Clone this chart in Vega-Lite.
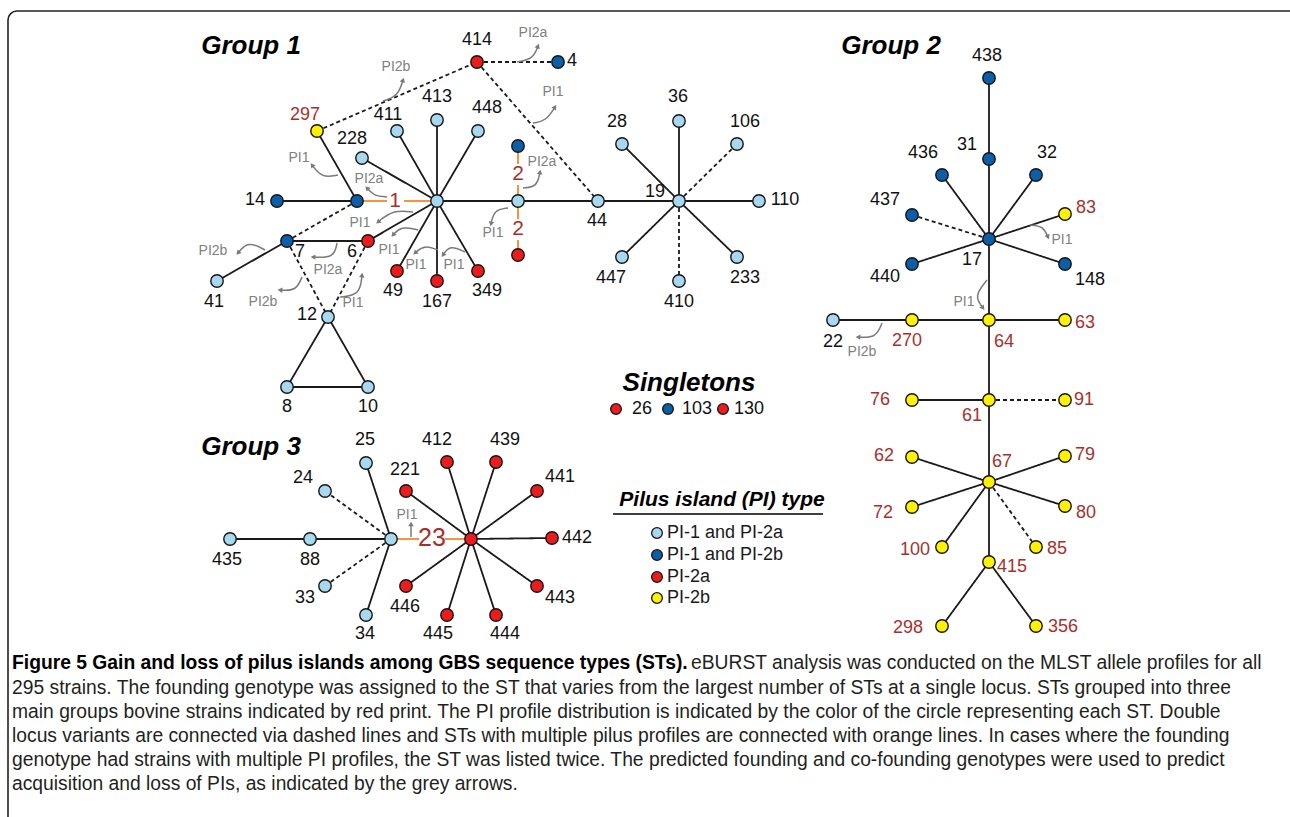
{
"$schema": "https://vega.github.io/schema/vega-lite/v6.json",
"width": 1290, "height": 817,
"autosize": {"type": "none"},
"padding": 0,
"background": "white",
"config": {"view": {"stroke": null}, "text": {"font": "Liberation Sans"}},
"datasets": {
"nodes": [
{"id":"n414","x":477,"y":62,"pi":"PI-2a"},
{"id":"n4","x":558,"y":62,"pi":"PI-1 and PI-2b"},
{"id":"n297","x":317,"y":131,"pi":"PI-2b"},
{"id":"n411","x":397,"y":131,"pi":"PI-1 and PI-2a"},
{"id":"n413","x":437,"y":120,"pi":"PI-1 and PI-2a"},
{"id":"n448","x":478,"y":131,"pi":"PI-1 and PI-2a"},
{"id":"n228","x":362,"y":158,"pi":"PI-1 and PI-2a"},
{"id":"n1a","x":437,"y":201,"pi":"PI-1 and PI-2a"},
{"id":"n1b","x":357,"y":201,"pi":"PI-1 and PI-2b"},
{"id":"n14","x":277,"y":201,"pi":"PI-1 and PI-2b"},
{"id":"n2b","x":518,"y":146,"pi":"PI-1 and PI-2b"},
{"id":"n2a","x":518,"y":201,"pi":"PI-1 and PI-2a"},
{"id":"n2r","x":518,"y":255,"pi":"PI-2a"},
{"id":"n44","x":598,"y":201,"pi":"PI-1 and PI-2a"},
{"id":"n7","x":287,"y":241,"pi":"PI-1 and PI-2b"},
{"id":"n6","x":368,"y":241,"pi":"PI-2a"},
{"id":"n41","x":217,"y":281,"pi":"PI-1 and PI-2a"},
{"id":"n12","x":328,"y":317,"pi":"PI-1 and PI-2a"},
{"id":"n8","x":287,"y":387,"pi":"PI-1 and PI-2a"},
{"id":"n10","x":368,"y":387,"pi":"PI-1 and PI-2a"},
{"id":"n49","x":397,"y":271,"pi":"PI-2a"},
{"id":"n167","x":437,"y":281,"pi":"PI-2a"},
{"id":"n349","x":478,"y":271,"pi":"PI-2a"},
{"id":"n19","x":679,"y":201,"pi":"PI-1 and PI-2a"},
{"id":"n28","x":622,"y":144,"pi":"PI-1 and PI-2a"},
{"id":"n36","x":679,"y":121,"pi":"PI-1 and PI-2a"},
{"id":"n106","x":737,"y":144,"pi":"PI-1 and PI-2a"},
{"id":"n110","x":759,"y":201,"pi":"PI-1 and PI-2a"},
{"id":"n447","x":622,"y":257,"pi":"PI-1 and PI-2a"},
{"id":"n410","x":679,"y":281,"pi":"PI-1 and PI-2a"},
{"id":"n233","x":737,"y":257,"pi":"PI-1 and PI-2a"},
{"id":"n438","x":989,"y":78,"pi":"PI-1 and PI-2b"},
{"id":"n31","x":989,"y":159,"pi":"PI-1 and PI-2b"},
{"id":"n436","x":942,"y":175,"pi":"PI-1 and PI-2b"},
{"id":"n32","x":1036,"y":175,"pi":"PI-1 and PI-2b"},
{"id":"n437","x":912,"y":215,"pi":"PI-1 and PI-2b"},
{"id":"n83","x":1065,"y":214,"pi":"PI-2b"},
{"id":"n17","x":989,"y":239,"pi":"PI-1 and PI-2b"},
{"id":"n440","x":912,"y":264,"pi":"PI-1 and PI-2b"},
{"id":"n148","x":1065,"y":264,"pi":"PI-1 and PI-2b"},
{"id":"n64","x":989,"y":320,"pi":"PI-2b"},
{"id":"n22","x":833,"y":320,"pi":"PI-1 and PI-2a"},
{"id":"n270","x":912,"y":320,"pi":"PI-2b"},
{"id":"n63","x":1065,"y":320,"pi":"PI-2b"},
{"id":"n61","x":989,"y":400,"pi":"PI-2b"},
{"id":"n76","x":912,"y":400,"pi":"PI-2b"},
{"id":"n91","x":1065,"y":400,"pi":"PI-2b"},
{"id":"n67","x":989,"y":482,"pi":"PI-2b"},
{"id":"n62","x":912,"y":457,"pi":"PI-2b"},
{"id":"n79","x":1065,"y":456,"pi":"PI-2b"},
{"id":"n72","x":912,"y":507,"pi":"PI-2b"},
{"id":"n80","x":1065,"y":506,"pi":"PI-2b"},
{"id":"n100","x":942,"y":547,"pi":"PI-2b"},
{"id":"n85","x":1036,"y":547,"pi":"PI-2b"},
{"id":"n415","x":989,"y":562,"pi":"PI-2b"},
{"id":"n298","x":942,"y":626,"pi":"PI-2b"},
{"id":"n356","x":1036,"y":626,"pi":"PI-2b"},
{"id":"n23a","x":391,"y":539,"pi":"PI-1 and PI-2a"},
{"id":"n23r","x":471,"y":539,"pi":"PI-2a"},
{"id":"n25","x":366,"y":463,"pi":"PI-1 and PI-2a"},
{"id":"n24","x":325,"y":491,"pi":"PI-1 and PI-2a"},
{"id":"n435","x":230,"y":539,"pi":"PI-1 and PI-2a"},
{"id":"n88","x":310,"y":539,"pi":"PI-1 and PI-2a"},
{"id":"n33","x":325,"y":586,"pi":"PI-1 and PI-2a"},
{"id":"n34","x":366,"y":615,"pi":"PI-1 and PI-2a"},
{"id":"n221","x":406,"y":491,"pi":"PI-2a"},
{"id":"n412","x":447,"y":462,"pi":"PI-2a"},
{"id":"n439","x":496,"y":462,"pi":"PI-2a"},
{"id":"n441","x":537,"y":491,"pi":"PI-2a"},
{"id":"n442","x":552,"y":538,"pi":"PI-2a"},
{"id":"n443","x":537,"y":586,"pi":"PI-2a"},
{"id":"n444","x":496,"y":615,"pi":"PI-2a"},
{"id":"n445","x":447,"y":615,"pi":"PI-2a"},
{"id":"n446","x":406,"y":586,"pi":"PI-2a"}
],
"edges": [
{"s":"n1a","t":"n413","k":"solid"},{"s":"n1a","t":"n411","k":"solid"},{"s":"n1a","t":"n448","k":"solid"},{"s":"n1a","t":"n228","k":"solid"},
{"s":"n1a","t":"n6","k":"solid"},{"s":"n1a","t":"n49","k":"solid"},{"s":"n1a","t":"n167","k":"solid"},{"s":"n1a","t":"n349","k":"solid"},
{"s":"n1a","t":"n2a","k":"solid"},{"s":"n2a","t":"n44","k":"solid"},{"s":"n44","t":"n19","k":"solid"},
{"s":"n1b","t":"n14","k":"solid"},{"s":"n1b","t":"n297","k":"solid"},{"s":"n1b","t":"n7","k":"dashed"},
{"s":"n7","t":"n6","k":"solid"},{"s":"n7","t":"n41","k":"solid"},{"s":"n7","t":"n12","k":"dashed"},{"s":"n6","t":"n12","k":"dashed"},
{"s":"n12","t":"n8","k":"solid"},{"s":"n12","t":"n10","k":"solid"},{"s":"n8","t":"n10","k":"solid"},
{"s":"n297","t":"n414","k":"dashed"},{"s":"n414","t":"n4","k":"dashed"},{"s":"n414","t":"n44","k":"dashed"},
{"s":"n19","t":"n28","k":"solid"},{"s":"n19","t":"n36","k":"solid"},{"s":"n19","t":"n106","k":"dashed"},{"s":"n19","t":"n110","k":"solid"},
{"s":"n19","t":"n447","k":"solid"},{"s":"n19","t":"n410","k":"dashed"},{"s":"n19","t":"n233","k":"solid"},
{"s":"n438","t":"n31","k":"solid"},{"s":"n31","t":"n17","k":"solid"},{"s":"n17","t":"n436","k":"solid"},{"s":"n17","t":"n32","k":"solid"},
{"s":"n17","t":"n437","k":"dashed"},{"s":"n17","t":"n83","k":"solid"},{"s":"n17","t":"n440","k":"solid"},{"s":"n17","t":"n148","k":"solid"},
{"s":"n17","t":"n64","k":"solid"},{"s":"n64","t":"n270","k":"solid"},{"s":"n270","t":"n22","k":"solid"},{"s":"n64","t":"n63","k":"solid"},
{"s":"n64","t":"n61","k":"solid"},{"s":"n61","t":"n76","k":"solid"},{"s":"n61","t":"n91","k":"dashed"},{"s":"n61","t":"n67","k":"solid"},
{"s":"n67","t":"n62","k":"solid"},{"s":"n67","t":"n79","k":"solid"},{"s":"n67","t":"n72","k":"solid"},{"s":"n67","t":"n80","k":"solid"},
{"s":"n67","t":"n100","k":"solid"},{"s":"n67","t":"n85","k":"dashed"},{"s":"n67","t":"n415","k":"solid"},
{"s":"n415","t":"n298","k":"solid"},{"s":"n415","t":"n356","k":"solid"},
{"s":"n23a","t":"n25","k":"solid"},{"s":"n23a","t":"n24","k":"dashed"},{"s":"n23a","t":"n88","k":"solid"},{"s":"n88","t":"n435","k":"solid"},
{"s":"n23a","t":"n33","k":"dashed"},{"s":"n23a","t":"n34","k":"solid"},
{"s":"n23r","t":"n221","k":"solid"},{"s":"n23r","t":"n412","k":"solid"},{"s":"n23r","t":"n439","k":"solid"},{"s":"n23r","t":"n441","k":"solid"},
{"s":"n23r","t":"n442","k":"solid"},{"s":"n23r","t":"n443","k":"solid"},{"s":"n23r","t":"n444","k":"solid"},{"s":"n23r","t":"n445","k":"solid"},
{"s":"n23r","t":"n446","k":"solid"}
],
"orange": [
{"x":357,"y":201,"x2":387,"y2":201},{"x":404,"y":201,"x2":437,"y2":201},
{"x":518,"y":146,"x2":518,"y2":164},{"x":518,"y":185,"x2":518,"y2":201},
{"x":518,"y":201,"x2":518,"y2":219},{"x":518,"y":240,"x2":518,"y2":255},
{"x":391,"y":539,"x2":419,"y2":539},{"x":445,"y":539,"x2":471,"y2":539}
],
"arrows": [
{"a":1,"o":0,"x":517,"y":62},{"a":1,"o":1,"x":533,"y":59},{"a":1,"o":2,"x":538,"y":46},
{"a":2,"o":0,"x":383,"y":101},{"a":2,"o":1,"x":398,"y":96},{"a":2,"o":2,"x":403,"y":80},
{"a":3,"o":0,"x":533,"y":123},{"a":3,"o":1,"x":546,"y":121},{"a":3,"o":2,"x":555,"y":107},
{"a":4,"o":0,"x":338,"y":175},{"a":4,"o":1,"x":322,"y":178},{"a":4,"o":2,"x":312,"y":165},
{"a":5,"o":0,"x":387,"y":197},{"a":5,"o":1,"x":374,"y":196},{"a":5,"o":2,"x":367,"y":188},
{"a":6,"o":0,"x":523,"y":188},{"a":6,"o":1,"x":537,"y":187},{"a":6,"o":2,"x":540,"y":172},
{"a":7,"o":0,"x":413,"y":212},{"a":7,"o":1,"x":393,"y":210},{"a":7,"o":2,"x":378,"y":222},
{"a":8,"o":0,"x":418,"y":230},{"a":8,"o":1,"x":401,"y":226},{"a":8,"o":2,"x":393,"y":235},
{"a":9,"o":0,"x":438,"y":250},{"a":9,"o":1,"x":424,"y":245},{"a":9,"o":2,"x":415,"y":253},
{"a":10,"o":0,"x":465,"y":252},{"a":10,"o":1,"x":450,"y":245},{"a":10,"o":2,"x":443,"y":255},
{"a":11,"o":0,"x":508,"y":208},{"a":11,"o":1,"x":494,"y":210},{"a":11,"o":2,"x":491,"y":224},
{"a":12,"o":0,"x":265,"y":250},{"a":12,"o":1,"x":248,"y":241},{"a":12,"o":2,"x":238,"y":253},
{"a":13,"o":0,"x":337,"y":243},{"a":13,"o":1,"x":334,"y":258},{"a":13,"o":2,"x":313,"y":257},
{"a":14,"o":0,"x":302,"y":277},{"a":14,"o":1,"x":296,"y":291},{"a":14,"o":2,"x":280,"y":290},
{"a":15,"o":0,"x":340,"y":297},{"a":15,"o":1,"x":360,"y":295},{"a":15,"o":2,"x":362,"y":275},
{"a":16,"o":0,"x":1030,"y":225},{"a":16,"o":1,"x":1043,"y":226},{"a":16,"o":2,"x":1048,"y":237},
{"a":17,"o":0,"x":987,"y":280},{"a":17,"o":1,"x":974,"y":296},{"a":17,"o":2,"x":983,"y":308},
{"a":18,"o":0,"x":882,"y":323},{"a":18,"o":1,"x":876,"y":338},{"a":18,"o":2,"x":858,"y":337},
{"a":19,"o":0,"x":411,"y":537},{"a":19,"o":1,"x":411,"y":530},{"a":19,"o":2,"x":411,"y":524}
],
"heads": [
{"x":538,"y":46,"ang":21},{"x":403,"y":80,"ang":17},{"x":555,"y":107,"ang":33},{"x":312,"y":165,"ang":-38},
{"x":367,"y":188,"ang":-41},{"x":540,"y":172,"ang":11},{"x":378,"y":222,"ang":-129},{"x":393,"y":235,"ang":-138},
{"x":415,"y":253,"ang":-132},{"x":443,"y":255,"ang":-145},{"x":491,"y":224,"ang":-168},{"x":238,"y":253,"ang":-140},
{"x":313,"y":257,"ang":-87},{"x":280,"y":290,"ang":-86},{"x":362,"y":275,"ang":6},{"x":1048,"y":237,"ang":156},
{"x":983,"y":308,"ang":143},{"x":858,"y":337,"ang":-87},{"x":411,"y":524,"ang":0}
],
"keys": [
{"x":616,"y":409,"pi":"PI-2a","kind":"single"},
{"x":668,"y":409,"pi":"PI-1 and PI-2b","kind":"single"},
{"x":723,"y":409,"pi":"PI-2a","kind":"single"},
{"x":657,"y":533,"pi":"PI-1 and PI-2a","kind":"legend"},
{"x":657,"y":555,"pi":"PI-1 and PI-2b","kind":"legend"},
{"x":657,"y":577,"pi":"PI-2a","kind":"legend"},
{"x":657,"y":598,"pi":"PI-2b","kind":"legend"}
],
"labels": [
{"t":"414","x":477,"y":40,"c":"st"},{"t":"4","x":572,"y":61,"c":"st"},{"t":"411","x":388,"y":115,"c":"st"},{"t":"413","x":437,"y":97,"c":"st"},
{"t":"448","x":487,"y":108,"c":"st"},{"t":"228","x":352,"y":139,"c":"st"},{"t":"14","x":255,"y":200,"c":"st"},{"t":"44","x":597,"y":221,"c":"st"},
{"t":"7","x":300,"y":252,"c":"st"},{"t":"6","x":352,"y":252,"c":"st"},{"t":"41","x":214,"y":302,"c":"st"},{"t":"12","x":307,"y":315,"c":"st"},
{"t":"8","x":287,"y":407,"c":"st"},{"t":"10","x":368,"y":407,"c":"st"},{"t":"49","x":393,"y":291,"c":"st"},{"t":"167","x":437,"y":302,"c":"st"},
{"t":"349","x":487,"y":291,"c":"st"},{"t":"19","x":655,"y":192,"c":"st"},{"t":"28","x":617,"y":122,"c":"st"},{"t":"36","x":678,"y":97,"c":"st"},
{"t":"106","x":745,"y":122,"c":"st"},{"t":"110","x":785,"y":200,"c":"st"},{"t":"447","x":611,"y":278,"c":"st"},{"t":"410","x":679,"y":302,"c":"st"},
{"t":"233","x":745,"y":278,"c":"st"},
{"t":"438","x":987,"y":56,"c":"st"},{"t":"31","x":967,"y":145,"c":"st"},{"t":"436","x":923,"y":153,"c":"st"},{"t":"32","x":1047,"y":153,"c":"st"},
{"t":"437","x":885,"y":200,"c":"st"},{"t":"17","x":972,"y":260,"c":"st"},{"t":"440","x":885,"y":277,"c":"st"},{"t":"148","x":1090,"y":280,"c":"st"},
{"t":"22","x":833,"y":342,"c":"st"},
{"t":"25","x":365,"y":440,"c":"st"},{"t":"24","x":303,"y":478,"c":"st"},{"t":"435","x":227,"y":560,"c":"st"},{"t":"88","x":310,"y":560,"c":"st"},
{"t":"33","x":305,"y":598,"c":"st"},{"t":"34","x":365,"y":634,"c":"st"},{"t":"221","x":405,"y":470,"c":"st"},{"t":"412","x":437,"y":440,"c":"st"},
{"t":"439","x":505,"y":440,"c":"st"},{"t":"441","x":560,"y":477,"c":"st"},{"t":"442","x":577,"y":538,"c":"st"},{"t":"443","x":560,"y":598,"c":"st"},
{"t":"444","x":505,"y":634,"c":"st"},{"t":"445","x":438,"y":634,"c":"st"},{"t":"446","x":405,"y":607,"c":"st"},
{"t":"26","x":642,"y":409,"c":"st"},{"t":"103","x":697,"y":409,"c":"st"},{"t":"130","x":749,"y":409,"c":"st"},
{"t":"297","x":305,"y":115,"c":"bov"},{"t":"83","x":1086,"y":208,"c":"bov"},{"t":"270","x":907,"y":341,"c":"bov"},{"t":"64","x":1004,"y":342,"c":"bov"},
{"t":"63","x":1085,"y":323,"c":"bov"},{"t":"76","x":880,"y":400,"c":"bov"},{"t":"61","x":972,"y":416,"c":"bov"},{"t":"91","x":1084,"y":400,"c":"bov"},
{"t":"62","x":884,"y":456,"c":"bov"},{"t":"67","x":1002,"y":462,"c":"bov"},{"t":"79","x":1085,"y":455,"c":"bov"},{"t":"72","x":883,"y":513,"c":"bov"},
{"t":"80","x":1086,"y":513,"c":"bov"},{"t":"100","x":915,"y":550,"c":"bov"},{"t":"85","x":1057,"y":549,"c":"bov"},{"t":"415","x":1012,"y":567,"c":"bov"},
{"t":"298","x":908,"y":628,"c":"bov"},{"t":"356","x":1063,"y":627,"c":"bov"},
{"t":"1","x":395,"y":201,"c":"num"},{"t":"2","x":518,"y":174,"c":"num"},{"t":"2","x":518,"y":229,"c":"num"},
{"t":"23","x":432,"y":538,"c":"big"},
{"t":"PI2a","x":533,"y":33,"c":"pi"},{"t":"PI2b","x":396,"y":67,"c":"pi"},{"t":"PI1","x":553,"y":92,"c":"pi"},{"t":"PI1","x":299,"y":158,"c":"pi"},
{"t":"PI2a","x":369,"y":179,"c":"pi"},{"t":"PI2a","x":542,"y":162,"c":"pi"},{"t":"PI1","x":360,"y":223,"c":"pi"},{"t":"PI1","x":389,"y":250,"c":"pi"},
{"t":"PI1","x":416,"y":265,"c":"pi"},{"t":"PI1","x":454,"y":265,"c":"pi"},{"t":"PI1","x":493,"y":233,"c":"pi"},{"t":"PI2b","x":213,"y":251,"c":"pi"},
{"t":"PI2a","x":328,"y":270,"c":"pi"},{"t":"PI2b","x":263,"y":302,"c":"pi"},{"t":"PI1","x":353,"y":303,"c":"pi"},{"t":"PI1","x":1062,"y":240,"c":"pi"},
{"t":"PI1","x":964,"y":302,"c":"pi"},{"t":"PI2b","x":862,"y":352,"c":"pi"},{"t":"PI1","x":407,"y":515,"c":"pi"}
],
"titles": [
{"t":"Group 1","x":251,"y":46,"c":"g"},
{"t":"Group 2","x":891,"y":46,"c":"g"},
{"t":"Group 3","x":251,"y":447,"c":"g"},
{"t":"Singletons","x":689,"y":383,"c":"g"},
{"t":"Pilus island (PI) type","x":722,"y":500,"c":"l"}
],
"caption": [
{"t":"Figure 5 Gain and loss of pilus islands among GBS sequence types (STs).","x":12,"y":663,"w":"b"},
{"t":"eBURST analysis was conducted on the MLST allele profiles for all","x":691,"y":663,"w":"n"},
{"t":"295 strains. The founding genotype was assigned to the ST that varies from the largest number of STs at a single locus. STs grouped into three","x":12,"y":688,"w":"n"},
{"t":"main groups bovine strains indicated by red print. The PI profile distribution is indicated by the color of the circle representing each ST. Double","x":12,"y":712,"w":"n"},
{"t":"locus variants are connected via dashed lines and STs with multiple pilus profiles are connected with orange lines. In cases where the founding","x":12,"y":736,"w":"n"},
{"t":"genotype had strains with multiple PI profiles, the ST was listed twice. The predicted founding and co-founding genotypes were used to predict","x":12,"y":760,"w":"n"},
{"t":"acquisition and loss of PIs, as indicated by the grey arrows.","x":12,"y":784,"w":"n"}
]
},
"encoding": {
"x": {"field":"x","type":"quantitative","scale":{"domain":[0,1290],"nice":false,"zero":false},"axis":null},
"y": {"field":"y","type":"quantitative","scale":{"domain":[0,817],"nice":false,"zero":false,"reverse":true},"axis":null}
},
"layer": [
{"data":{"values":[{"x":8,"y":11,"x2":1300,"y2":840}]},
 "mark":{"type":"rect","fill":"transparent","stroke":"#222222","strokeWidth":1.6,"cornerRadius":9},
 "encoding":{"x2":{"field":"x2"},"y2":{"field":"y2"}}},
{"data":{"name":"edges"},
 "transform":[
  {"lookup":"s","from":{"data":{"name":"nodes"},"key":"id","fields":["x","y"]},"as":["x","y"]},
  {"lookup":"t","from":{"data":{"name":"nodes"},"key":"id","fields":["x","y"]},"as":["x2","y2"]}
 ],
 "mark":{"type":"rule","color":"#1a1a1a","strokeWidth":1.8},
 "encoding":{"x2":{"field":"x2"},"y2":{"field":"y2"},
  "strokeDash":{"field":"k","type":"nominal","scale":{"domain":["solid","dashed"],"range":[[1,0],[4,3]]},"legend":null}}},
{"data":{"name":"orange"},
 "mark":{"type":"rule","color":"#f5943c","strokeWidth":2},
 "encoding":{"x2":{"field":"x2"},"y2":{"field":"y2"}}},
{"data":{"name":"arrows"},
 "mark":{"type":"line","interpolate":"basis","color":"#7a7a7a","strokeWidth":1.5},
 "encoding":{"detail":{"field":"a","type":"nominal"},"order":{"field":"o","type":"quantitative"}}},
{"data":{"name":"heads"},
 "mark":{"type":"point","shape":"triangle-up","filled":true,"color":"#7a7a7a","size":30,"opacity":1},
 "encoding":{"angle":{"field":"ang","type":"quantitative","scale":null}}},
{"data":{"name":"nodes"},
 "mark":{"type":"point","shape":"circle","filled":true,"size":155,"stroke":"#151515","strokeWidth":1.4,"opacity":1},
 "encoding":{"fill":{"field":"pi","type":"nominal","scale":{"domain":["PI-1 and PI-2a","PI-1 and PI-2b","PI-2a","PI-2b"],"range":["#a8d8ef","#0d5ea8","#ec1c1c","#fff200"]},"legend":null}}},
{"data":{"name":"keys"},
 "mark":{"type":"point","shape":"circle","filled":true,"size":115,"stroke":"#151515","strokeWidth":1.3,"opacity":1},
 "encoding":{"fill":{"field":"pi","type":"nominal","scale":{"domain":["PI-1 and PI-2a","PI-1 and PI-2b","PI-2a","PI-2b"],"range":["#a8d8ef","#0d5ea8","#ec1c1c","#fff200"]},"legend":null}}},
{"data":{"name":"keys"},"transform":[{"filter":"datum.kind==='legend'"}],
 "mark":{"type":"text","align":"left","baseline":"middle","dx":10,"fontSize":18,"color":"#1a1a1a"},
 "encoding":{"text":{"field":"pi"}}},
{"data":{"name":"labels"},"transform":[{"filter":"datum.c==='st'"}],
 "mark":{"type":"text","align":"center","baseline":"middle","fontSize":18,"color":"#111111"},
 "encoding":{"text":{"field":"t"}}},
{"data":{"name":"labels"},"transform":[{"filter":"datum.c==='bov'"}],
 "mark":{"type":"text","align":"center","baseline":"middle","fontSize":18,"color":"#a8302c"},
 "encoding":{"text":{"field":"t"}}},
{"data":{"name":"labels"},"transform":[{"filter":"datum.c==='num'"}],
 "mark":{"type":"text","align":"center","baseline":"middle","fontSize":21,"color":"#a8302c"},
 "encoding":{"text":{"field":"t"}}},
{"data":{"name":"labels"},"transform":[{"filter":"datum.c==='big'"}],
 "mark":{"type":"text","align":"center","baseline":"middle","fontSize":25,"color":"#a8302c"},
 "encoding":{"text":{"field":"t"}}},
{"data":{"name":"labels"},"transform":[{"filter":"datum.c==='pi'"}],
 "mark":{"type":"text","align":"center","baseline":"middle","fontSize":14,"color":"#808080"},
 "encoding":{"text":{"field":"t"}}},
{"data":{"name":"titles"},"transform":[{"filter":"datum.c==='g'"}],
 "mark":{"type":"text","align":"center","baseline":"middle","fontSize":26,"fontWeight":"bold","fontStyle":"italic","color":"#000000"},
 "encoding":{"text":{"field":"t"}}},
{"data":{"name":"titles"},"transform":[{"filter":"datum.c==='l'"}],
 "mark":{"type":"text","align":"center","baseline":"middle","fontSize":21,"fontWeight":"bold","fontStyle":"italic","color":"#000000"},
 "encoding":{"text":{"field":"t"}}},
{"data":{"values":[{"x":613,"y":514,"x2":823,"y2":514}]},
 "mark":{"type":"rule","color":"#000000","strokeWidth":1.5},
 "encoding":{"x2":{"field":"x2"},"y2":{"field":"y2"}}},
{"data":{"name":"caption"},"transform":[{"filter":"datum.w==='b'"}],
 "mark":{"type":"text","align":"left","baseline":"middle","fontSize":19.3,"fontWeight":"bold","color":"#000000"},
 "encoding":{"text":{"field":"t"}}},
{"data":{"name":"caption"},"transform":[{"filter":"datum.w==='n'"}],
 "mark":{"type":"text","align":"left","baseline":"middle","fontSize":19.3,"color":"#231f20"},
 "encoding":{"text":{"field":"t"}}}
]
}
